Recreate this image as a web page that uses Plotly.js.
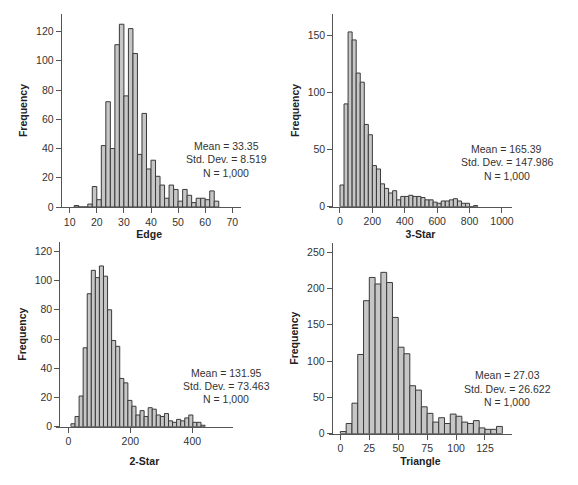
<!DOCTYPE html>
<html>
<head>
<meta charset="utf-8">
<script src="https://cdn.plot.ly/plotly-3.0.1.min.js"></script>
<style>html,body{margin:0;padding:0;background:#fff;}#chart{width:578px;height:485px;}</style>
</head>
<body>
<div id="chart"></div>
<script>
// ---- Data ----
const edgeBinStart = 11.667, edgeBinWidth = 5/3;
const edgeCounts = [1,0,0,2,14,5,42,72,40,111,125,76,122,105,36,64,26,32,21,15,6,15,12,4,12,8,3,6,6,5,11,4];
const edgeStats = ["Mean = 33.35", "Std. Dev. = 8.519", "N = 1,000"];

const threeStarBinStart = 0, threeStarBinWidth = 25;
const threeStarCounts = [19,90,153,146,117,109,72,63,36,33,20,16,12,14,6,9,9,10,9,9,8,6,6,4,3,5,5,6,7,5,3,3,0,1];
const threeStarStats = ["Mean = 165.39", "Std. Dev. = 147.986", "N = 1,000"];

const twoStarBinStart = 8.6, twoStarBinWidth = 13.1;
const twoStarCounts = [2,7,21,54,91,107,102,110,103,80,59,55,33,30,18,14,8,11,7,13,12,8,7,9,4,3,5,4,6,8,3,3,1];
const twoStarStats = ["Mean = 131.95", "Std. Dev. = 73.463", "N = 1,000"];

const triangleBinStart = 0, triangleBinWidth = 5;
const triangleCounts = [3,14,42,109,183,215,206,222,208,160,119,110,66,60,37,28,16,22,14,27,24,16,14,18,8,6,6,10];
const triangleStats = ["Mean = 27.03", "Std. Dev. = 26.622", "N = 1,000"];

const xTitles = ["Edge", "3-Star", "2-Star", "Triangle"];
const yTitle = "Frequency";
const edgeTicks = [10,20,30,40,50,60,70];
const threeStarTicks = [0,200,400,600,800,1000];
const twoStarTicks = [0,200,400];
const triangleTicks = [0,25,50,75,100,125];

// ---- Build ----
const W = 578, H = 485;
const FONT = "Liberation Sans, Arial, sans-serif";
const TXT = "#333333";
function centers(start, width, n){ const c=[]; for(let i=0;i<n;i++) c.push(start+width*(i+0.5)); return c; }
function barTrace(start, width, counts, xa, ya){
  return {type:"bar", x:centers(start,width,counts.length), y:counts, width:width,
    xaxis:xa, yaxis:ya, marker:{color:"#c6c6c6", line:{color:"#3a3a3a", width:1}}, hoverinfo:"x+y", showlegend:false};
}
const data = [
  barTrace(edgeBinStart, edgeBinWidth, edgeCounts, "x", "y"),
  barTrace(threeStarBinStart, threeStarBinWidth, threeStarCounts, "x2", "y2"),
  barTrace(twoStarBinStart, twoStarBinWidth, twoStarCounts, "x3", "y3"),
  barTrace(triangleBinStart, triangleBinWidth, triangleCounts, "x4", "y4")
];
function xa(l, r, range, ticks, title, standoff, ya){
  return {domain:[l/W, r/W], range:range, anchor:ya, tickmode:"array", tickvals:ticks,
    showline:true, linecolor:"#555", linewidth:1, ticks:"outside", ticklen:5, tickcolor:"#555",
    showgrid:false, zeroline:false, tickfont:{family:FONT, size:10.5, color:TXT},
    title:{text:"<b>"+title+"</b>", font:{family:FONT, size:10.5, color:"#222"}, standoff:standoff}};
}
function ya(bottom, top, range, dtick, pos, standoff){
  return {domain:[1-bottom/H, 1-top/H], range:range, anchor:"free", position:pos/W, dtick:dtick,
    showline:true, linecolor:"#555", linewidth:1, ticks:"outside", ticklen:5, tickcolor:"#555",
    showgrid:false, zeroline:false, tickfont:{family:FONT, size:10.5, color:TXT},
    title:{text:"<b>"+yTitle+"</b>", font:{family:FONT, size:10.5, color:"#222"}, standoff:standoff}};
}
const layout = {
  width:W, height:H, margin:{l:0,r:0,t:0,b:0}, paper_bgcolor:"#fff", plot_bgcolor:"rgba(0,0,0,0)",
  bargap:0, font:{family:FONT, color:TXT},
  xaxis: xa(57.7, 240.7, [5.57, 73.1], edgeTicks, xTitles[0], 4, "y"),
  yaxis: ya(207, 14, [0, 132], 20, 60.7, 5),
  xaxis2: xa(329.3, 511.7, [-66, 1060], threeStarTicks, xTitles[1], 4, "y2"),
  yaxis2: ya(206.7, 14, [0, 168.7], 50, 332.3, 4),
  xaxis3: xa(56, 232.7, [-39.7, 530], twoStarTicks, xTitles[2], 11, "y3"),
  yaxis3: ya(426.7, 241.7, [0, 126.6], 20, 59.3, 4),
  xaxis4: xa(329.3, 511.7, [-9.6, 148.1], triangleTicks, xTitles[3], 4, "y4"),
  yaxis4: ya(433.7, 242.7, [0, 262.8], 50, 331.7, 5),
  annotations: []
};
function stats(lines, cx, cy){
  lines.forEach((t,i)=>layout.annotations.push({text:t, xref:"paper", yref:"paper",
    x:cx/W, y:1-(cy[i])/H, xanchor:"center", yanchor:"middle", showarrow:false,
    font:{family:FONT, size:10.5, color:TXT}}));
}
stats(edgeStats, 226, [146, 159.5, 173]);
stats(threeStarStats, 506.7, [148.5, 162.3, 175.5]);
stats(twoStarStats, 226, [372.7, 386, 399.3]);
stats(triangleStats, 507.3, [375, 388.5, 401.7]);
Plotly.newPlot("chart", data, layout, {displayModeBar:false, staticPlot:true});
</script>
</body>
</html>
